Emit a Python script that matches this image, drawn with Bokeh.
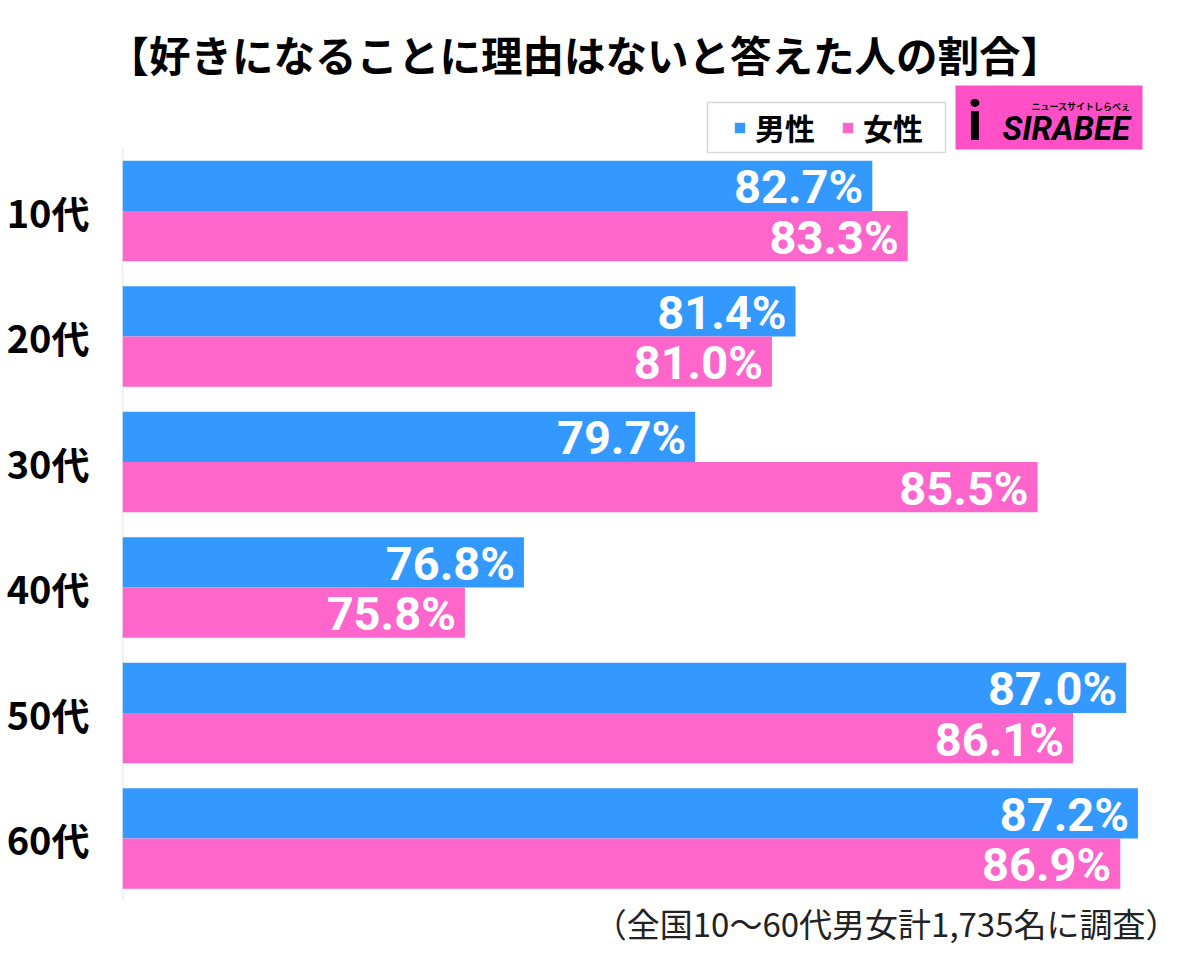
from bokeh.plotting import figure
from bokeh.models import (Range1d, FixedTicker, Label, Legend, LegendItem,
                          ColumnDataSource, BoxAnnotation)
from bokeh.embed import file_html
from bokeh.resources import INLINE
from bokeh.core.properties import value

# ---- data ----
ages = ["10代", "20代", "30代", "40代", "50代", "60代"]
male = [82.7, 81.4, 79.7, 76.8, 87.0, 87.2]
female = [83.3, 81.0, 85.5, 75.8, 86.1, 86.9]
series_names = ["男性", "女性"]
title_text = "【好きになることに理由はないと答えた人の割合】"
note_text = "（全国10～60代男女計1,735名に調査）"
logo_text = "SIRABEE"
logo_sub = "ニュースサイトしらべぇ"

# ---- layout (page pixels) ----
W, H = 1200, 977
AXIS_PX = 122          # x pixel of the value-axis baseline
X0 = 70.0              # value at the baseline
PXPCT = 59.04          # pixels per percentage point
X1 = X0 + (W - AXIS_PX) / PXPCT
GROUP_PX = 125.5       # pixels per category
TOP_CENTER_PX = 210.5  # pixel y of first category centre
n = len(ages)
Y_TOP = (n - 1) + TOP_CENTER_PX / GROUP_PX
Y_BOT = Y_TOP - H / GROUP_PX

BLUE = "#3399FF"
PINK = "#FF66CC"
LOGO_PINK = "#FF50C8"
JP = "Noto Sans CJK JP"


def dx(px):  # page px -> data x
    return X0 + (px - AXIS_PX) / PXPCT


def dy(py):  # page px -> data y
    return Y_TOP - py / GROUP_PX


pos = [n - 1 - i for i in range(n)]
bh = 0.4

src_m = ColumnDataSource(dict(y=[p_ + bh / 2 for p_ in pos], v=male,
                              lab=[f"{v:.1f}%" for v in male]))
src_f = ColumnDataSource(dict(y=[p_ - bh / 2 for p_ in pos], v=female,
                              lab=[f"{v:.1f}%" for v in female]))

p = figure(width=W, height=H, output_backend="svg", toolbar_location=None,
           title=None,
           x_range=Range1d(X0, X1), y_range=Range1d(Y_BOT, Y_TOP),
           x_axis_location=None,
           min_border_left=AXIS_PX, min_border_right=0,
           min_border_top=0, min_border_bottom=0)
p.outline_line_color = None
p.grid.visible = False
p.background_fill_color = "white"
p.border_fill_color = "white"

# baseline of the value axis, spanning the categories
p.segment(x0=[X0], y0=[-0.5], x1=[X0], y1=[n - 0.5],
          line_color="#D9D9D9", line_width=1.5)

rm = p.hbar(y="y", left=X0, right="v", height=bh, source=src_m,
            fill_color=BLUE, line_color=None)
rf = p.hbar(y="y", left=X0, right="v", height=bh, source=src_f,
            fill_color=PINK, line_color=None)

for src in (src_m, src_f):
    p.text(x="v", y="y", text="lab", source=src, x_offset=-9, y_offset=1,
           text_align="right", text_baseline="middle", text_color="white",
           text_font=value("Roboto"), text_font_style="bold",
           text_font_size="47px")

ax = p.yaxis[0]
ax.ticker = FixedTicker(ticks=pos)
ax.major_label_overrides = {p_: a for p_, a in zip(pos, ages)}
ax.axis_line_color = None
ax.major_tick_line_color = None
ax.minor_tick_line_color = None
ax.major_label_standoff = 27
ax.major_label_text_font = JP
ax.major_label_text_font_style = "bold"
ax.major_label_text_font_size = "38px"
ax.major_label_text_color = "black"

# legend frame
p.add_layout(BoxAnnotation(left=dx(707), right=dx(945), top=dy(102), bottom=dy(152),
                           fill_color="white", fill_alpha=1,
                           line_color="#7F7F7F", line_width=1.5))
legend = Legend(items=[LegendItem(label=series_names[0], renderers=[rm]),
                       LegendItem(label=series_names[1], renderers=[rf])],
                orientation="horizontal", location=(733 - AXIS_PX, H - 149),
                border_line_color=None, background_fill_alpha=0,
                padding=0, spacing=26, margin=0,
                glyph_width=13, glyph_height=13, label_standoff=9,
                label_text_font=JP, label_text_font_style="bold",
                label_text_font_size="30px", label_text_color="black")
p.add_layout(legend, "center")

# logo
p.add_layout(BoxAnnotation(left=dx(955), right=dx(1142), top=dy(85), bottom=dy(149),
                           fill_color=LOGO_PINK, fill_alpha=1, line_color=None))
p.add_layout(Label(x=dx(967), y=dy(120), text="i", text_font="Roboto",
                   text_font_style="bold", text_font_size="56px",
                   text_color="black", text_baseline="middle"))
p.add_layout(Label(x=dx(1002), y=dy(128), text=logo_text, text_font="Roboto",
                   text_font_style="bold italic", text_font_size="33px",
                   text_color="black", text_baseline="middle"))
p.add_layout(Label(x=dx(1031), y=dy(106), text=logo_sub, text_font=JP,
                   text_font_style="bold", text_font_size="9px",
                   text_color="black", text_baseline="middle"))

# title
p.add_layout(Label(x=dx(107), y=dy(53), text=title_text, text_font=JP,
                   text_font_style="bold", text_font_size="41.5px",
                   text_color="black", text_baseline="middle"))
# footnote
p.add_layout(Label(x=dx(1178), y=dy(922), text=note_text, text_font=JP,
                   text_font_size="33px", text_color="#222222",
                   text_align="right", text_baseline="middle"))

open("out.html", "w").write(file_html(p, INLINE))
